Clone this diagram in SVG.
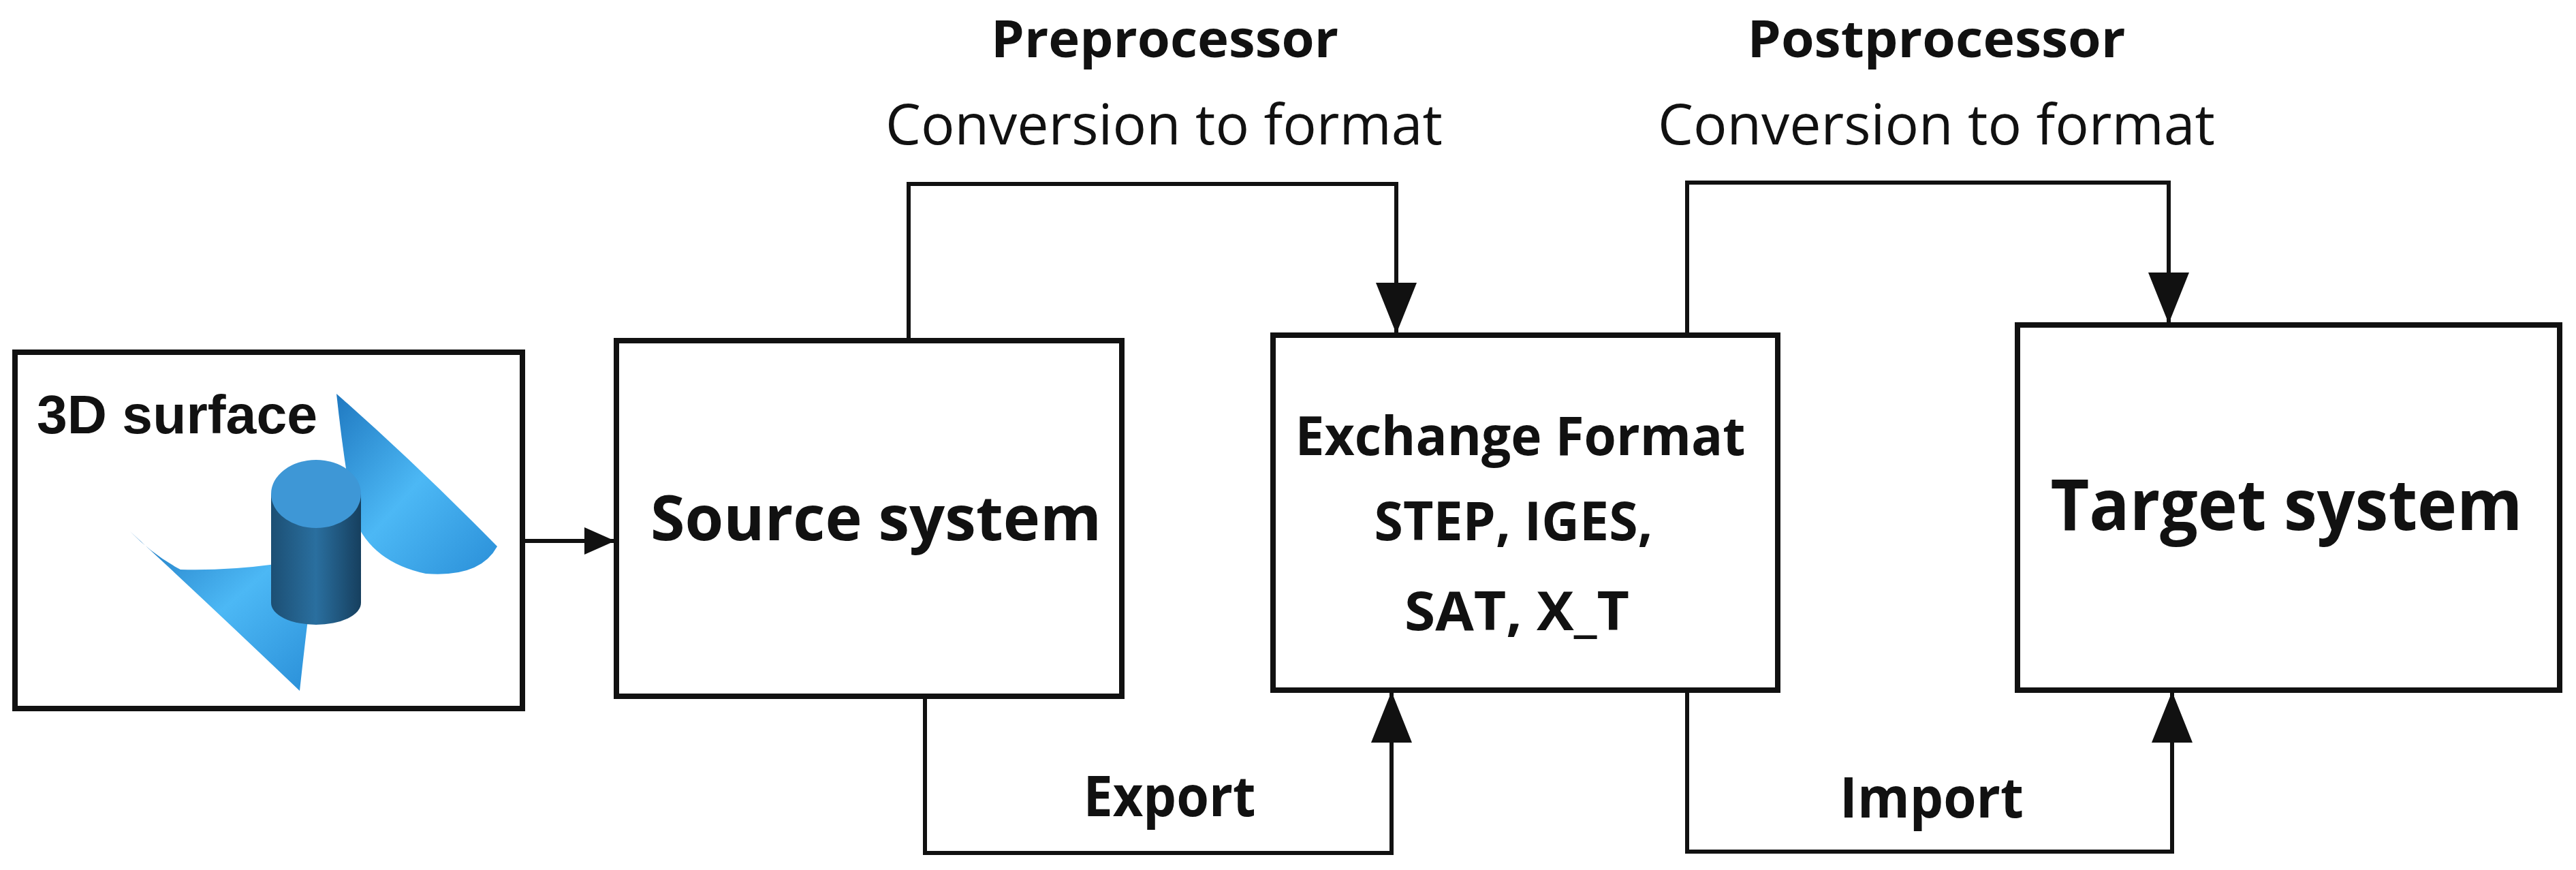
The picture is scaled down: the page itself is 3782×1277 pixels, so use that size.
<svg xmlns="http://www.w3.org/2000/svg" width="3782" height="1277" viewBox="0 0 3782 1277">
<style>
.box{fill:#fff;stroke:#111;stroke-width:8}
.ln{fill:none;stroke:#111;stroke-width:6}
.t{font-family:"Open Sans","Liberation Sans",sans-serif;fill:#111;text-anchor:middle}
.b{font-weight:bold}
</style>
<defs>
<marker id="ah" viewBox="0 0 45 40" refX="45" refY="20" markerWidth="45" markerHeight="40" markerUnits="userSpaceOnUse" orient="auto"><path d="M0,0 L45,20 L0,40 Z" fill="#111"/></marker>
<marker id="big" viewBox="0 0 75 60" refX="75" refY="30" markerWidth="75" markerHeight="60" markerUnits="userSpaceOnUse" orient="auto"><path d="M0,0 L75,30 L0,60 Z" fill="#111"/></marker>
<linearGradient id="wing" x1="0" y1="0" x2="1" y2="1"><stop offset="0" stop-color="#1f78c0"/><stop offset="0.5" stop-color="#4cb8f5"/><stop offset="1" stop-color="#2a8fd8"/></linearGradient>
<linearGradient id="cyl" x1="0" y1="0" x2="1" y2="0"><stop offset="0" stop-color="#1c4f74"/><stop offset="0.5" stop-color="#2a6f9f"/><stop offset="1" stop-color="#163f5e"/></linearGradient>
</defs>
<g id="surface3d">
<rect class="box" x="22" y="517" width="745" height="523"/>
<text x="54" y="636" font-family="'Liberation Sans',Arial,sans-serif" font-size="80" font-weight="bold" fill="#111" textLength="412" lengthAdjust="spacingAndGlyphs">3D surface</text>
<path d="M494,578 Q610,680 730,802 Q705,848 625,842 Q545,825 520,760 Q505,680 494,578 Z" fill="url(#wing)"/>
<path d="M191,780 Q310,890 440,1014 Q448,940 458,860 Q430,835 405,828 Q330,838 265,836 Q225,815 191,780 Z" fill="url(#wing)"/>
<path d="M398,725 L398,885 A66,32 0 0 0 530,885 L530,725 Z" fill="url(#cyl)"/>
<ellipse cx="464" cy="725" rx="66" ry="50" fill="#3e97d6"/>
</g>
<g id="source">
<rect class="box" x="905" y="500" width="742" height="522"/>
<text class="t b" x="1286" y="793" font-size="92" textLength="662" lengthAdjust="spacingAndGlyphs">Source system</text>
</g>
<g id="exchange">
<rect class="box" x="1869" y="492" width="741" height="521"/>
<text class="t b" x="2232" y="668" font-size="78" textLength="661" lengthAdjust="spacingAndGlyphs">Exchange Format</text>
<text class="t b" x="2222" y="793" font-size="78" textLength="409" lengthAdjust="spacingAndGlyphs">STEP, IGES,</text>
<text class="t b" x="2227" y="925" font-size="78" textLength="330" lengthAdjust="spacingAndGlyphs">SAT, X_T</text>
</g>
<g id="target">
<rect class="box" x="2962" y="477" width="796" height="536"/>
<text class="t b" x="3357" y="778" font-size="104" textLength="693" lengthAdjust="spacingAndGlyphs">Target system</text>
</g>
<g id="connectors">
<line class="ln" x1="767" y1="794" x2="903" y2="794" marker-end="url(#ah)"/>
<path class="ln" d="M1334,500 V270 H2050 V490" marker-end="url(#big)"/>
<path class="ln" d="M2477,492 V268 H3184 V475" marker-end="url(#big)"/>
<path class="ln" d="M1358,1022 V1252 H2043 V1015" marker-end="url(#big)"/>
<path class="ln" d="M2477,1013 V1250 H3189 V1015" marker-end="url(#big)"/>
</g>
<g id="labels">
<text class="t b" x="1710" y="84" font-size="76" textLength="510" lengthAdjust="spacingAndGlyphs">Preprocessor</text>
<text class="t" x="1709" y="212" font-size="82" textLength="818" lengthAdjust="spacingAndGlyphs">Conversion to format</text>
<text class="t b" x="2843" y="84" font-size="76" textLength="555" lengthAdjust="spacingAndGlyphs">Postprocessor</text>
<text class="t" x="2843" y="212" font-size="82" textLength="818" lengthAdjust="spacingAndGlyphs">Conversion to format</text>
<text class="t b" x="1717" y="1198" font-size="82" textLength="253" lengthAdjust="spacingAndGlyphs">Export</text>
<text class="t b" x="2836" y="1200" font-size="82" textLength="270" lengthAdjust="spacingAndGlyphs">Import</text>
</g>
</svg>
